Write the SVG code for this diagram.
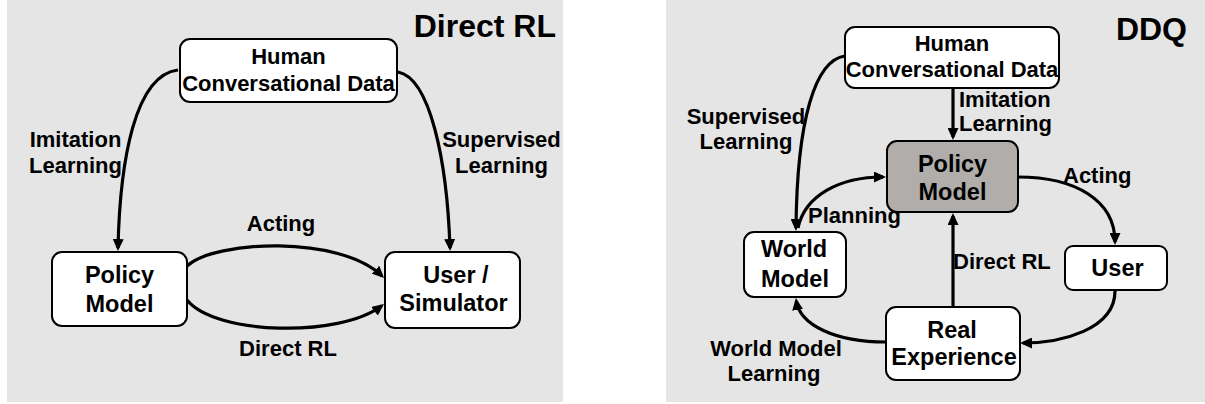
<svg xmlns="http://www.w3.org/2000/svg" width="1205" height="404" viewBox="0 0 1205 404">
<style>
.panel{fill:#e5e5e5;stroke:none}
.box{fill:#ffffff;stroke:#000;stroke-width:2}
.gbox{fill:#b0adab;stroke:#000;stroke-width:2}
.node{font-family:"Liberation Sans",Arial,sans-serif;font-weight:bold;font-size:23.5px;fill:#000;text-anchor:middle}
.hnode{font-family:"Liberation Sans",Arial,sans-serif;font-weight:bold;font-size:22px;fill:#000;text-anchor:middle}
.lbl{font-family:"Liberation Sans",Arial,sans-serif;font-weight:bold;font-size:22px;fill:#000}
.title{font-family:"Liberation Sans",Arial,sans-serif;font-weight:bold;font-size:32px;fill:#000;text-anchor:end}
.edge{fill:none;stroke:#000;stroke-width:3.2;marker-end:url(#arr)}
</style>
<defs>
<marker id="arr" markerUnits="userSpaceOnUse" markerWidth="12" markerHeight="11" refX="9" refY="5.5" orient="auto">
<path d="M0,0 L12,5.5 L0,11 z" fill="#000"/>
</marker>
</defs>
<rect class="panel" x="7" y="0" width="556" height="402"/>
<rect class="panel" x="666" y="0" width="539" height="402"/>

<g id="connectors">
<path class="edge" d="M178,70 C135,75 120,160 118,248"/>
<path class="edge" d="M398,72 C430,78 447,160 450,248"/>
<path class="edge" d="M187,266 C215,240 340,235 381.9,275.9"/>
<path class="edge" d="M187,300 C215,335 340,338 381.6,305.8"/>
<path class="edge" d="M953,88 L953,137"/>
<path class="edge" d="M845,56 C815,60 797,120 796,228"/>
<path class="edge" d="M798,228 C805,195 840,177 883,177"/>
<path class="edge" d="M1018,177 C1075,177 1115,200 1115,242"/>
<path class="edge" d="M1115,291 C1115,330 1060,343 1023,343"/>
<path class="edge" d="M953,307 L953,216"/>
<path class="edge" d="M886,342 C835,342 800,325 796.3,301"/>
</g>

<g id="title-direct">
<text class="title" x="556" y="37">Direct RL</text>
</g>
<g id="left-human">
<rect class="box" x="180" y="39" width="217" height="63" rx="10"/>
<text class="hnode" x="288.5" y="64">Human</text>
<text class="hnode" x="288.5" y="91">Conversational Data</text>
</g>
<g id="left-policy">
<rect class="box" x="52" y="252" width="135" height="74" rx="10"/>
<text class="node" x="119.5" y="283">Policy</text>
<text class="node" x="119.5" y="312">Model</text>
</g>
<g id="left-user">
<rect class="box" x="385" y="252" width="135" height="76" rx="10"/>
<text class="node" x="456" y="283">User /</text>
<text class="node" x="453.5" y="311">Simulator</text>
</g>
<g id="left-labels">
<text class="lbl" x="75.5" y="147" text-anchor="middle">Imitation</text>
<text class="lbl" x="75.5" y="173" text-anchor="middle">Learning</text>
<text class="lbl" x="501.5" y="147" text-anchor="middle">Supervised</text>
<text class="lbl" x="501.5" y="173" text-anchor="middle">Learning</text>
<text class="lbl" x="281" y="231" text-anchor="middle">Acting</text>
<text class="lbl" x="288" y="356" text-anchor="middle">Direct RL</text>
</g>

<g id="title-ddq">
<text class="title" x="1187" y="40">DDQ</text>
</g>
<g id="right-human">
<rect class="box" x="845" y="27" width="214" height="61" rx="10"/>
<text class="hnode" x="952" y="51">Human</text>
<text class="hnode" x="952" y="77">Conversational Data</text>
</g>
<g id="right-policy">
<rect class="gbox" x="887" y="141" width="131" height="71" rx="10"/>
<text class="node" x="952.5" y="172">Policy</text>
<text class="node" x="952.5" y="200">Model</text>
</g>
<g id="right-world">
<rect class="box" x="744" y="232" width="102" height="65" rx="10"/>
<text class="node" x="794" y="257">World</text>
<text class="node" x="795" y="287">Model</text>
</g>
<g id="right-user">
<rect class="box" x="1065" y="246" width="102" height="44" rx="8"/>
<text class="node" x="1117.5" y="276">User</text>
</g>
<g id="right-real">
<rect class="box" x="886" y="307" width="134" height="73" rx="10"/>
<text class="node" x="952" y="338">Real</text>
<text class="node" x="954" y="365">Experience</text>
</g>
<g id="right-labels">
<text class="lbl" x="959" y="107">Imitation</text>
<text class="lbl" x="959" y="131">Learning</text>
<text class="lbl" x="746" y="124" text-anchor="middle">Supervised</text>
<text class="lbl" x="746" y="149" text-anchor="middle">Learning</text>
<text class="lbl" x="1063" y="183">Acting</text>
<text class="lbl" x="808" y="223">Planning</text>
<text class="lbl" x="953" y="269">Direct RL</text>
<text class="lbl" x="776" y="356" text-anchor="middle">World Model</text>
<text class="lbl" x="774" y="381" text-anchor="middle">Learning</text>
</g>
</svg>
